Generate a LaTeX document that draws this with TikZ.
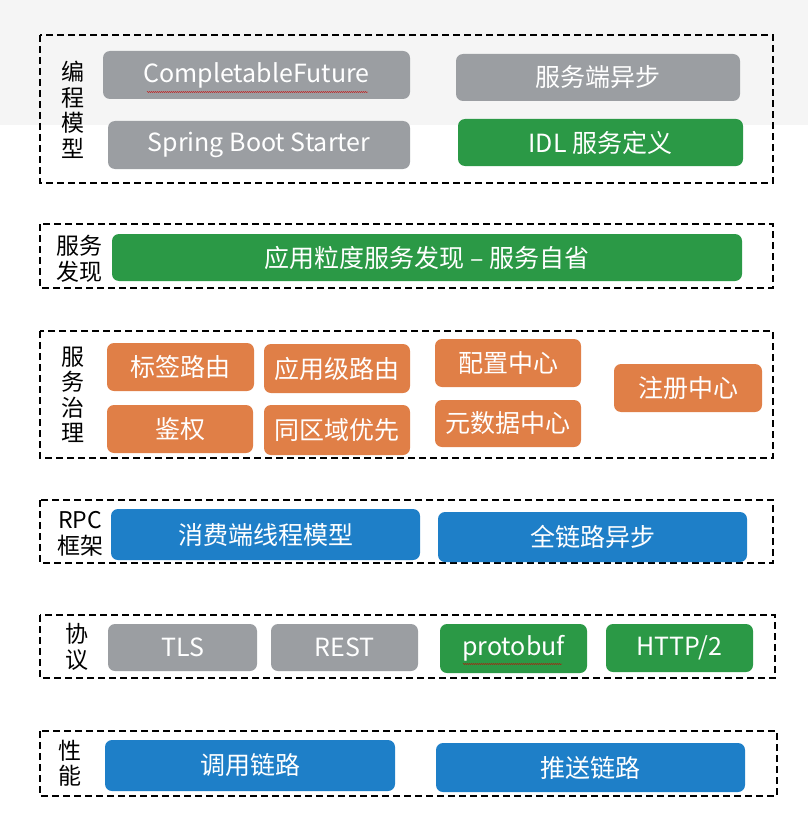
\documentclass[tikz,border=0pt]{standalone}
\usepackage{fontspec}
\usepackage{xcolor}
\newfontfamily\cjk{Noto Sans CJK SC}
\usetikzlibrary{decorations.pathmorphing}
\definecolor{tilegrey}{HTML}{9B9EA2}
\definecolor{tilegreen}{HTML}{2B9946}
\definecolor{tileorange}{HTML}{E07F47}
\definecolor{tileblue}{HTML}{1E7FC8}
\definecolor{bandgrey}{HTML}{F5F5F5}

\begin{document}
\begin{tikzpicture}[x=1pt,y=-1pt,
  tile/.style={rounded corners=7pt, text=white, inner sep=0pt, font=\cjk\fontsize{25}{29}\selectfont},
  greytile/.style={tile, fill=tilegrey},
  greentile/.style={tile, fill=tilegreen},
  orangetile/.style={tile, fill=tileorange},
  bluetile/.style={tile, fill=tileblue},
  layer/.style={line width=1.6pt, dash pattern=on 7pt off 4pt},
  layerlabel/.style={align=center, inner sep=0pt, font=\cjk\fontsize{23}{25.5}\selectfont},
  spell/.style={red!80!black, line width=0.4pt, decorate, decoration={snake, amplitude=0.5pt, segment length=2pt}}]
\useasboundingbox (0,0) rectangle (808,824);
\fill[bandgrey] (0,0) rectangle (808,125);

\draw[layer] (40,35) rectangle (773,183);
\node[layerlabel] (prog) at (73,110) {编\\程\\模\\型};
\node[greytile, minimum width=307pt, minimum height=48pt] (cf) at (256.5,75) {CompletableFuture};
\node[greytile, minimum width=284pt, minimum height=47pt] (srvasync) at (598,77.5) {服务端异步};
\node[greytile, minimum width=302pt, minimum height=48pt] (boot) at (259,145) {Spring Boot Starter};
\node[greentile, minimum width=285pt, minimum height=47pt] (idl) at (600.5,142.5) {IDL 服务定义};
\draw[spell] (147,92) -- (368,92);

\draw[layer] (40,224) rectangle (773,288);
\node[layerlabel] (disc) at (79,259) {服务\\发现};
\node[greentile, minimum width=630pt, minimum height=47pt] (appdisc) at (427,257.5) {应用粒度服务发现 – 服务自省};

\draw[layer] (40,331) rectangle (773,458);
\node[layerlabel] (gov) at (73,395) {服\\务\\治\\理};
\node[orangetile, minimum width=147pt, minimum height=48pt] (tagroute) at (180.5,367) {标签路由};
\node[orangetile, minimum width=146pt, minimum height=49pt] (approute) at (337,368.5) {应用级路由};
\node[orangetile, minimum width=146pt, minimum height=48pt] (config) at (508,363) {配置中心};
\node[orangetile, minimum width=148pt, minimum height=48pt] (registry) at (688,388) {注册中心};
\node[orangetile, minimum width=146pt, minimum height=48pt] (auth) at (180,429) {鉴权};
\node[orangetile, minimum width=146pt, minimum height=50pt] (zone) at (337,430) {同区域优先};
\node[orangetile, minimum width=146pt, minimum height=47pt] (meta) at (508,423.5) {元数据中心};

\draw[layer] (40,500) rectangle (773,563);
\node[layerlabel] (rpc) at (80,534) {RPC\\框架};
\node[bluetile, minimum width=309pt, minimum height=51pt] (thread) at (265.5,534.5) {消费端线程模型};
\node[bluetile, minimum width=309pt, minimum height=50pt] (fullasync) at (592.5,537) {全链路异步};

\draw[layer] (40,615) rectangle (775,678);
\node[layerlabel] (proto) at (77,647) {协\\议};
\node[greytile, minimum width=149pt, minimum height=47pt] (tls) at (182.5,647.5) {TLS};
\node[greytile, minimum width=147pt, minimum height=47pt] (rest) at (344.5,647.5) {REST};
\node[greentile, minimum width=147pt, minimum height=49pt] (pb) at (513.5,648.5) {protobuf};
\node[greentile, minimum width=147pt, minimum height=48pt] (http) at (679.5,648) {HTTP/2};
\draw[spell] (463,664) -- (562,664);

\draw[layer] (40,731) rectangle (777,796);
\node[layerlabel] (perf) at (70,763) {性\\能};
\node[bluetile, minimum width=290pt, minimum height=51pt] (invoke) at (250,765.5) {调用链路};
\node[bluetile, minimum width=309pt, minimum height=49pt] (push) at (590.5,767.5) {推送链路};
\end{tikzpicture}
\end{document}
